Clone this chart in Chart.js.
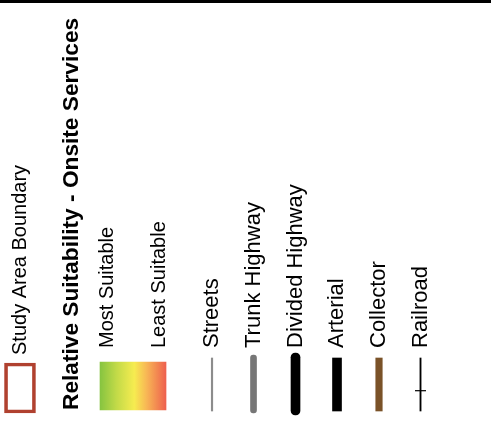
<!DOCTYPE html>
<html>
<head>
<meta charset="utf-8">
<script src="https://cdn.jsdelivr.net/npm/chart.js@4.4.1/dist/chart.umd.min.js"></script>
<style>
  html, body { margin: 0; padding: 0; background: #fff; }
  #wrap { width: 491px; height: 420px; border-top: 3px solid #000; }
</style>
</head>
<body>
<div id="wrap"><canvas id="legendChart" width="491" height="420"></canvas></div>
<script>
// Legend text
const boundaryLabel = ["Study Area Boundary"];
const titleLabel = ["Relative Suitability - Onsite Services"];
const rampLabels = ["Most Suitable", "Least Suitable"];
const roadLabels = ["Streets", "Trunk Highway", "Divided Highway", "Arterial", "Collector", "Railroad"];

// positions along the x axis, in row units (left to right)
const boundaryPos = [0.476];
const titlePos = [1.72];
const rampLabelPos = [2.56, 3.8];
const rampPos = 3.167;
const roadPos = [5.048, 6.036, 7.036, 8.024, 9.024, 10.012];

// symbol extents on the y axis (0 = bottom, 1 = top of the symbol row)
const boundarySpan = [-0.06, 0.94];
const rampSpan = [0, 0.96];
const roadSpan = [[-0.02, 1.04], [-0.06, 1.1], [-0.1, 1.14], [-0.02, 1.04], [-0.02, 1.04], [-0.02, 1.04]];
const railTieLevel = 0.386;

// styles
const roadColor = ["#8c8c8c", "#767676", "#000000", "#000000", "#7a5228", "#000000"];
const roadWidth = [1.5, 6, 9, 9, 6.5, 1.2];
const roadRound = [0, 3, 4.5, 0, 0, 0];
const rampStops = [
    [0, "#86c440"],
    [0.25, "#c2da48"],
    [0.52, "#f6ec50"],
    [0.7, "#f8b855"],
    [1, "#ee604e"]
];
const rampWidth = 66;

const ROW_PX = 42;
const FONT = "'Liberation Sans', Arial, sans-serif";

function rampFill(context) {
    const chart = context.chart;
    const xs = chart.scales.x;
    if (!chart.chartArea || !xs) return rampStops[0][1];
    const c = xs.getPixelForValue(rampPos);
    if (!isFinite(c)) return rampStops[0][1];
    const g = chart.ctx.createLinearGradient(c - rampWidth / 2, 0, c + rampWidth / 2, 0);
    rampStops.forEach(s => g.addColorStop(s[0], s[1]));
    return g;
}

const datasets = [];

// study area boundary box
datasets.push({
    type: "bar",
    label: boundaryLabel[0],
    data: [{ x: boundaryPos[0], y: boundarySpan }],
    backgroundColor: "rgba(0,0,0,0)",
    borderColor: "#b0412f",
    borderWidth: 3,
    borderSkipped: false,
    barThickness: 31,
    grouped: false,
    clip: false
});

// suitability colour ramp
datasets.push({
    type: "bar",
    label: "Relative Suitability",
    data: [{ x: rampPos, y: rampSpan }],
    backgroundColor: rampFill,
    borderWidth: 0,
    borderSkipped: false,
    barThickness: rampWidth,
    grouped: false,
    clip: false
});

// road / rail symbols
roadLabels.forEach((name, i) => {
    datasets.push({
        type: "bar",
        label: name,
        data: [{ x: roadPos[i], y: roadSpan[i] }],
        backgroundColor: roadColor[i],
        borderWidth: 0,
        borderSkipped: false,
        borderRadius: roadRound[i],
        barThickness: roadWidth[i],
        grouped: false,
        clip: false
    });
});

// railroad cross tie
datasets.push({
    type: "line",
    label: "Railroad tie",
    data: [{ x: roadPos[5], y: railTieLevel }],
    showLine: false,
    pointStyle: "line",
    pointRadius: 5.5,
    borderColor: "#000",
    borderWidth: 1.2,
    clip: false
});

// one top axis per group of labels (they start at different heights).
// mirror keeps the labels from being clipped to the axis box;
// padding is then measured downward from the axis bottom.
function labelAxis(labels, positions, font, padding, height, weight) {
    return {
        type: "linear",
        position: "top",
        weight: weight,
        min: 0,
        max: 491 / ROW_PX,
        offset: false,
        grid: { display: false, drawTicks: false },
        border: { display: false },
        afterBuildTicks: function(scale) {
            scale.ticks = positions.map(v => ({ value: v }));
        },
        afterFit: function(scale) {
            scale.height = height;
            scale.paddingLeft = 0;
            scale.paddingRight = 0;
        },
        ticks: {
            autoSkip: false,
            mirror: true,
            minRotation: 90,
            maxRotation: 90,
            padding: padding,
            color: "#000",
            font: font,
            callback: function(value, index) {
                return labels[index];
            }
        }
    };
}

const legendChart = new Chart(document.getElementById("legendChart"), {
    type: "bar",
    data: { datasets: datasets },
    options: {
        responsive: false,
        animation: false,
        events: [],
        layout: { autoPadding: false, padding: { top: 0, left: 0, right: 0, bottom: 13 } },
        plugins: { legend: { display: false }, tooltip: { enabled: false } },
        scales: {
            x: labelAxis(roadLabels, roadPos, { family: FONT, size: 22 }, -12, 357, 1),
            xRamp: labelAxis(rampLabels, rampLabelPos, { family: FONT, size: 20 }, -12, 0, 0),
            xBoundary: labelAxis(boundaryLabel, boundaryPos, { family: FONT, size: 20 }, -5, 0, 0),
            xTitle: labelAxis(titleLabel, titlePos, { family: FONT, size: 22.7, weight: "bold" }, 50, 0, 0),
            y: {
                display: false,
                min: 0,
                max: 1
            }
        }
    }
});
</script>
</body>
</html>
